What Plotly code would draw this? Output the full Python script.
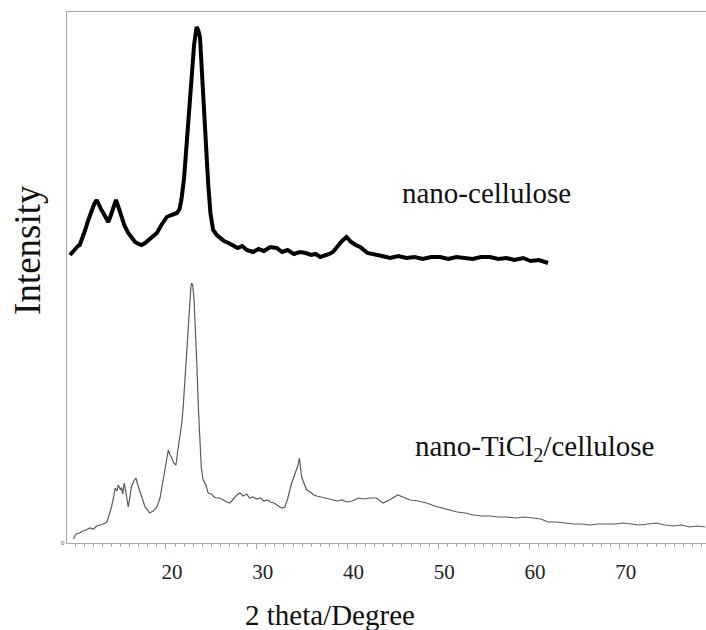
import plotly.graph_objects as go

# nano-cellulose pattern (2theta in degrees, intensity in arbitrary units)
cell_2theta = [9.43, 9.7, 10.0, 10.3, 10.5, 10.8, 11.1, 11.45, 11.8, 12.1, 12.37, 12.6, 12.9, 13.1,
               13.4, 13.65, 13.9, 14.2, 14.5, 14.8, 15.1, 15.45, 15.85, 16.2, 16.6, 17.0, 17.3,
               17.7, 18.1, 18.5, 19.0, 19.5, 20.1, 20.6, 21.2, 21.5, 21.7, 22.0, 22.3, 22.6, 22.83,
               23.1, 23.38, 23.55, 23.75, 24.1, 24.4, 24.65, 24.9, 25.2, 25.6, 25.95, 26.4, 26.9,
               27.4, 27.9, 28.4, 28.9, 29.6, 30.2, 30.8, 31.5, 32.2, 32.8, 33.4, 34.1, 34.75, 35.4,
               36.0, 36.5, 37.0, 37.5, 38.0, 38.4, 38.9, 39.4, 39.9, 40.4, 40.9, 41.4, 42.2, 43.0,
               43.8, 44.7, 45.6, 46.5, 47.4, 48.3, 49.2, 50.2, 51.1, 52.0, 52.9, 53.8, 54.7, 55.7,
               56.6, 57.5, 58.4, 59.35, 60.2, 61.1, 62.1]
cell_int = [288, 291, 294, 297, 298, 305, 313, 323, 332, 339, 343, 338, 333, 330,
            324, 321, 327, 336, 343, 335, 326, 317, 310, 305, 301, 299, 298,
            300, 303, 306, 310, 318, 326, 328, 330, 334, 343, 365, 403, 440, 470,
            498, 516, 513, 506, 443, 395, 360, 330, 313, 308, 305, 302, 300,
            298, 295, 297, 293, 291, 294, 292, 296, 295, 291, 293, 289, 291, 290,
            288, 289, 286, 287, 289, 291, 297, 302, 306, 301, 298, 296, 290, 288,
            287, 285, 287, 285, 286, 284, 286, 286, 284, 286, 285, 284, 286, 286,
            284, 285, 283, 285, 282, 283, 280]

# nano-TiCl2/cellulose pattern
ti_2theta = [9.8, 10.1, 10.5, 10.8, 11.2, 11.6, 12.0, 12.4, 12.7, 13.1, 13.5, 13.75, 14.0, 14.2,
             14.4, 14.6, 14.75, 14.95, 15.1, 15.25, 15.4, 15.6, 15.85, 16.0, 16.2, 16.45, 16.7,
             16.9, 17.1, 17.4, 17.7, 18.0, 18.2, 18.6, 19.0, 19.35, 19.7, 20.0, 20.26, 20.45,
             20.6, 20.85, 21.1, 21.3, 21.55, 21.75, 21.9, 22.1, 22.3, 22.5, 22.65, 22.75, 22.83,
             22.95, 23.1, 23.25, 23.4, 23.6, 23.75, 23.9, 24.1, 24.4, 24.65, 25.0, 25.3, 25.6,
             25.95, 26.3, 26.7, 27.05, 27.4, 27.8, 28.15, 28.5, 28.9, 29.2, 29.6, 30.0, 30.4,
             30.8, 31.1, 31.5, 31.9, 32.2, 32.55, 32.8, 33.1, 33.4, 33.6, 33.85, 34.1, 34.4,
             34.55, 34.7, 34.85, 34.95, 35.2, 35.5, 35.9, 36.3, 36.6, 37.0, 37.4, 37.9, 38.4,
             38.9, 39.4, 39.9, 40.5, 41.2, 41.8, 42.5, 43.2, 43.9, 44.6, 45.1, 45.55, 46.1,
             46.9, 47.8, 48.7, 49.6, 50.4, 51.3, 52.1, 53.0, 53.85, 54.8, 55.7, 56.6, 57.5,
             58.5, 59.5, 60.45, 61.3, 62.1, 63.0, 64.0, 64.9, 65.8, 66.7, 67.6, 68.5, 69.4,
             70.35, 71.3, 72.2, 73.1, 74.0, 75.0, 75.9, 76.8, 77.7, 78.6, 79.4]
ti_int = [4, 9, 10, 12, 13, 15, 14, 17, 18, 19, 21, 28, 36, 44,
          55, 52, 58, 54, 55, 49, 60, 50, 36, 44, 56, 62, 65,
          58, 53, 44, 36, 33, 30, 32, 36, 45, 63, 80, 93, 88,
          86, 80, 78, 92, 106, 120, 136, 165, 196, 228, 250, 256, 260,
          258, 243, 215, 180, 130, 93, 75, 63, 58, 50, 49, 46, 45,
          45, 43, 41, 40, 44, 48, 50, 47, 49, 45, 46, 44, 45,
          42, 43, 41, 40, 38, 36, 35, 36, 44, 52, 60, 66, 73,
          78, 85, 74, 66, 60, 53, 51, 48, 47, 46, 45, 44, 43,
          42, 43, 41, 42, 45, 44, 45, 45, 40, 43, 46, 48, 46,
          43, 42, 40, 37, 35, 33, 31, 30, 28, 27, 27, 26, 26,
          25, 26, 25, 24, 21, 21, 20, 19, 19, 18, 19, 19, 19,
          20, 19, 18, 19, 20, 18, 17, 18, 16, 17, 16]

x_ticks = [20, 30, 40, 50, 60, 70]
x_range = [9.1, 79.5]
y_range = [0, 531]

label_cell = "nano-cellulose"
label_ti = "nano-TiCl<sub>2</sub>/cellulose"
x_title = "2 theta/Degree"
y_title = "Intensity"

SERIF = "Liberation Serif, Times New Roman, serif"
AXIS_GRAY = "#a6a6a6"

fig = go.Figure()
fig.add_trace(go.Scatter(x=ti_2theta, y=ti_int, mode="lines",
                         line=dict(color="#5a5a5a", width=1.2), showlegend=False))
fig.add_trace(go.Scatter(x=cell_2theta, y=cell_int, mode="lines",
                         line=dict(color="#000000", width=4), showlegend=False))

fig.update_layout(
    width=706, height=630,
    margin=dict(l=67, r=0, t=12, b=87),
    paper_bgcolor="white", plot_bgcolor="white",
    font=dict(family=SERIF, color="#111111"),
    xaxis=dict(range=x_range, tickmode="array", tickvals=x_ticks,
               ticks="outside", ticklen=5, tickcolor=AXIS_GRAY, tickwidth=1,
               minor=dict(tickmode="linear", tick0=0, dtick=1, ticks="outside",
                          ticklen=3, tickcolor=AXIS_GRAY, showgrid=False),
               showline=True, linecolor=AXIS_GRAY, linewidth=1, mirror=True,
               showgrid=False, zeroline=False,
               tickfont=dict(family=SERIF, size=21, color="#222222"),
               ticklabelshift=6, ticklabelstandoff=5),
    yaxis=dict(range=y_range, tickmode="array", tickvals=[0], ticktext=["0"],
               ticks="", showline=True, linecolor=AXIS_GRAY, linewidth=1,
               showgrid=False, zeroline=False,
               tickfont=dict(family=SERIF, size=7, color="#555555")),
    annotations=[
        dict(x=55.35, y=350, xref="x", yref="y", text=label_cell, showarrow=False,
             xanchor="center", yanchor="middle",
             font=dict(family=SERIF, size=29, color="#111111")),
        dict(x=60.65, y=95, xref="x", yref="y", text=label_ti, showarrow=False,
             xanchor="center", yanchor="middle",
             font=dict(family=SERIF, size=29, color="#111111")),
        dict(x=0.4116, y=-0.1356, xref="paper", yref="paper", text=x_title,
             showarrow=False, xanchor="center", yanchor="middle",
             font=dict(family=SERIF, size=29, color="#111111")),
        dict(x=-0.061, y=0.552, xref="paper", yref="paper", text=y_title,
             showarrow=False, xanchor="center", yanchor="middle", textangle=-90,
             font=dict(family=SERIF, size=37, color="#111111")),
    ],
)

fig.write_html("out.html")
